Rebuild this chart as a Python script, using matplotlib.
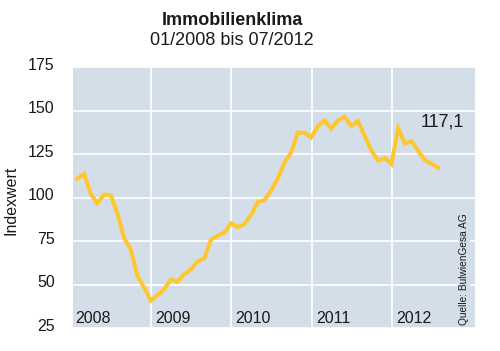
#=================================================================================================================================
import numpy as np
import matplotlib.pyplot as plt
import matplotlib.transforms as mtransforms
#=================================================================================================================================
# Immobilienklima index, monthly values 01/2008 .. 07/2012
values = [110.8, 113.6, 102.3, 96.6, 101.7, 101.3, 90.9, 76.7, 70.1, 54.9, 48.3, 40.7,
          43.9, 47.3, 53.0, 51.7, 55.9, 58.7, 63.4, 65.0, 75.8, 78.0, 79.9, 85.2,
          83.0, 84.7, 90.0, 97.5, 98.5, 104.0, 111.0, 120.3, 126.0, 137.3, 137.3, 134.5,
          141.1, 144.3, 139.6, 144.3, 146.4, 141.1, 143.9, 135.4, 126.9, 121.2, 122.7, 119.3,
          139.8, 131.1, 132.2, 126.9, 121.6, 119.3, 117.1]
years       = ['2008', '2009', '2010', '2011', '2012']
year_starts = [0, 12, 24, 36, 48]       # month index of each January
y_ticks     = [25, 50, 75, 100, 125, 150, 175]
last_label  = '117,1'
#=================================================================================================================================
plt.rcParams['font.family'] = ['Liberation Sans', 'DejaVu Sans']

bg_color   = '#d3dee9'
line_color = '#fec72e'

fig = plt.figure(figsize=(5.0, 3.51), dpi=100)
ax = fig.add_axes([0.1454, 0.0655, 0.8046, 0.7435])
ax.set_facecolor(bg_color)

months = np.arange(len(values))
ax.plot(months, values, color=line_color, lw=2.9, solid_joinstyle='miter', zorder=3)

ax.set_xlim(-0.69, 59.5)
ax.set_ylim(25, 175)

# year separators sit just before each January
ax.set_xticks([s - 0.95 for s in year_starts[1:]])
ax.set_xticklabels([])
ax.set_yticks(y_ticks)
ax.set_yticklabels([str(t) for t in y_ticks], fontsize=11.5, color='#1a1a1a')
ax.tick_params(length=0, pad=13)
offset = mtransforms.ScaledTranslation(0, 0.035, fig.dpi_scale_trans)
for lab in ax.get_yticklabels():
    lab.set_transform(lab.get_transform() + offset)

ax.grid(True, color='white', lw=1.2, zorder=1)
for side in ax.spines.values():
    side.set_visible(False)

for name, start in zip(years, year_starts):
    ax.text(start - 0.3, 28, name, fontsize=11.5, color='#1a1a1a', va='baseline', ha='left', zorder=4)

ax.text(len(values) + 2.8, 143.5, last_label, fontsize=13, color='#1a1a1a', ha='right', va='center', zorder=4)

ax.text(0.973, 0.012, 'Quelle: BulwienGesa AG', transform=ax.transAxes, rotation=90, fontsize=7.3,
        ha='center', va='bottom', color='#1a1a1a', zorder=4,
        bbox=dict(facecolor=bg_color, edgecolor='none', pad=0.8))

fig.text(0.022, 0.43, 'Indexwert', fontsize=11.5, rotation=90, ha='center', va='center', color='#1a1a1a')

fig.text(0.465, 0.941, 'Immobilienklima', fontsize=13, fontweight='bold', ha='center', va='center', color='#1a1a1a')
fig.text(0.463, 0.884, '01/2008 bis 07/2012', fontsize=13, ha='center', va='center', color='#1a1a1a')

fig.savefig('out.png', dpi=100)
#=================================================================================================================================
